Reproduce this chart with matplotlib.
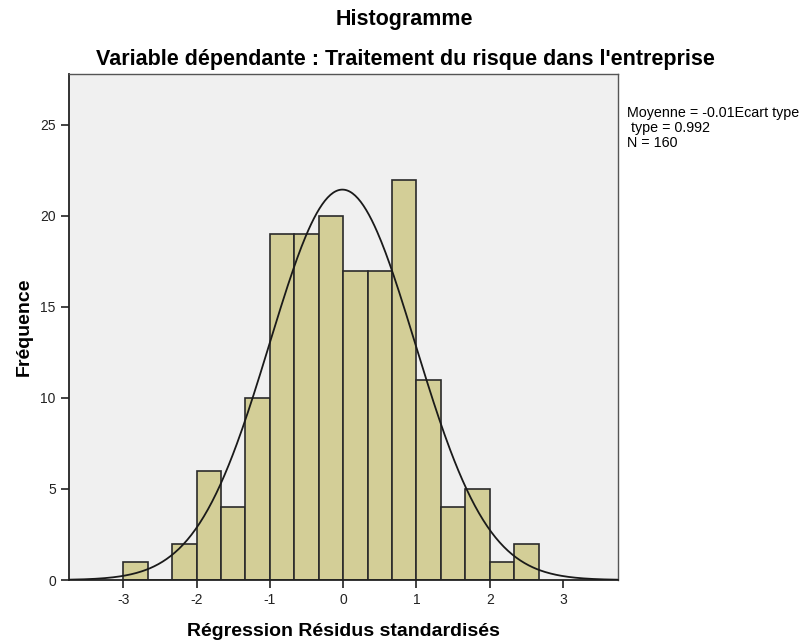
import numpy as np
import matplotlib
matplotlib.use("Agg")
import matplotlib.pyplot as plt

plt.rcParams['font.family'] = ['Liberation Sans', 'DejaVu Sans']
plt.rcParams['axes.unicode_minus'] = False

# Histogram of standardized residuals (bin width 1/3)
bin_edges = [-3.0, -8/3, -7/3, -2.0, -5/3, -4/3, -1.0, -2/3, -1/3, 0.0,
             1/3, 2/3, 1.0, 4/3, 5/3, 2.0, 7/3, 8/3]
counts = [1, 0, 2, 6, 4, 10, 19, 19, 20, 17, 17, 22, 11, 4, 5, 1, 2]

mean = -0.01
std = 0.992
n = 160

x_ticks = [-3, -2, -1, 0, 1, 2, 3]
y_ticks = [0, 5, 10, 15, 20, 25]

fig = plt.figure(figsize=(8.03, 6.43), dpi=100)
ax = fig.add_axes([69/803, 1 - 580/643, (618 - 69)/803, (580 - 74)/643])
ax.set_facecolor('#f0f0f0')

edges = np.array(bin_edges)
widths = np.diff(edges)
ax.bar(edges[:-1], counts, width=widths, align='edge', color='#d3ce97',
       edgecolor='#2a2a2a', linewidth=1.2, zorder=2)

# Normal curve scaled to counts
xs = np.linspace(-3.74, 3.75, 400)
bw = widths.mean()
ys = n * bw / (std * np.sqrt(2 * np.pi)) * np.exp(-0.5 * ((xs - mean) / std) ** 2)
ax.plot(xs, ys, color='#1a1a1a', linewidth=1.3, zorder=3)

ax.set_xlim(-3.74, 3.75)
ax.set_ylim(0, 27.8)
ax.set_xticks(x_ticks)
ax.set_yticks(y_ticks)
ax.tick_params(axis='both', direction='out', length=6, width=1.2,
               labelsize=10, colors='#222222')
ax.tick_params(axis='x', pad=3)
for side in ['left', 'bottom']:
    ax.spines[side].set_linewidth(1.3)
    ax.spines[side].set_color('#222222')
for side in ['top', 'right']:
    ax.spines[side].set_linewidth(1.0)
    ax.spines[side].set_color('#555555')

ax.set_xlabel('Régression Résidus standardisés', fontsize=14,
              fontweight='bold', labelpad=12)
ax.set_ylabel('Fréquence', fontsize=14, fontweight='bold', labelpad=5)

fig.text(404/803, 1 - 19/643, 'Histogramme', ha='center', va='center',
         fontsize=15.5, fontweight='bold')
fig.text(405/803, 1 - 59/643,
         "Variable dépendante : Traitement du risque dans l'entreprise",
         ha='center', va='center', fontsize=15.5, fontweight='bold')

fig.text(627/803, 1 - 106/643,
         'Moyenne = -0.01Ecart type\n type = 0.992\nN = 160',
         ha='left', va='top', fontsize=10.3, linespacing=1.08)

fig.savefig('out.png', dpi=100)
